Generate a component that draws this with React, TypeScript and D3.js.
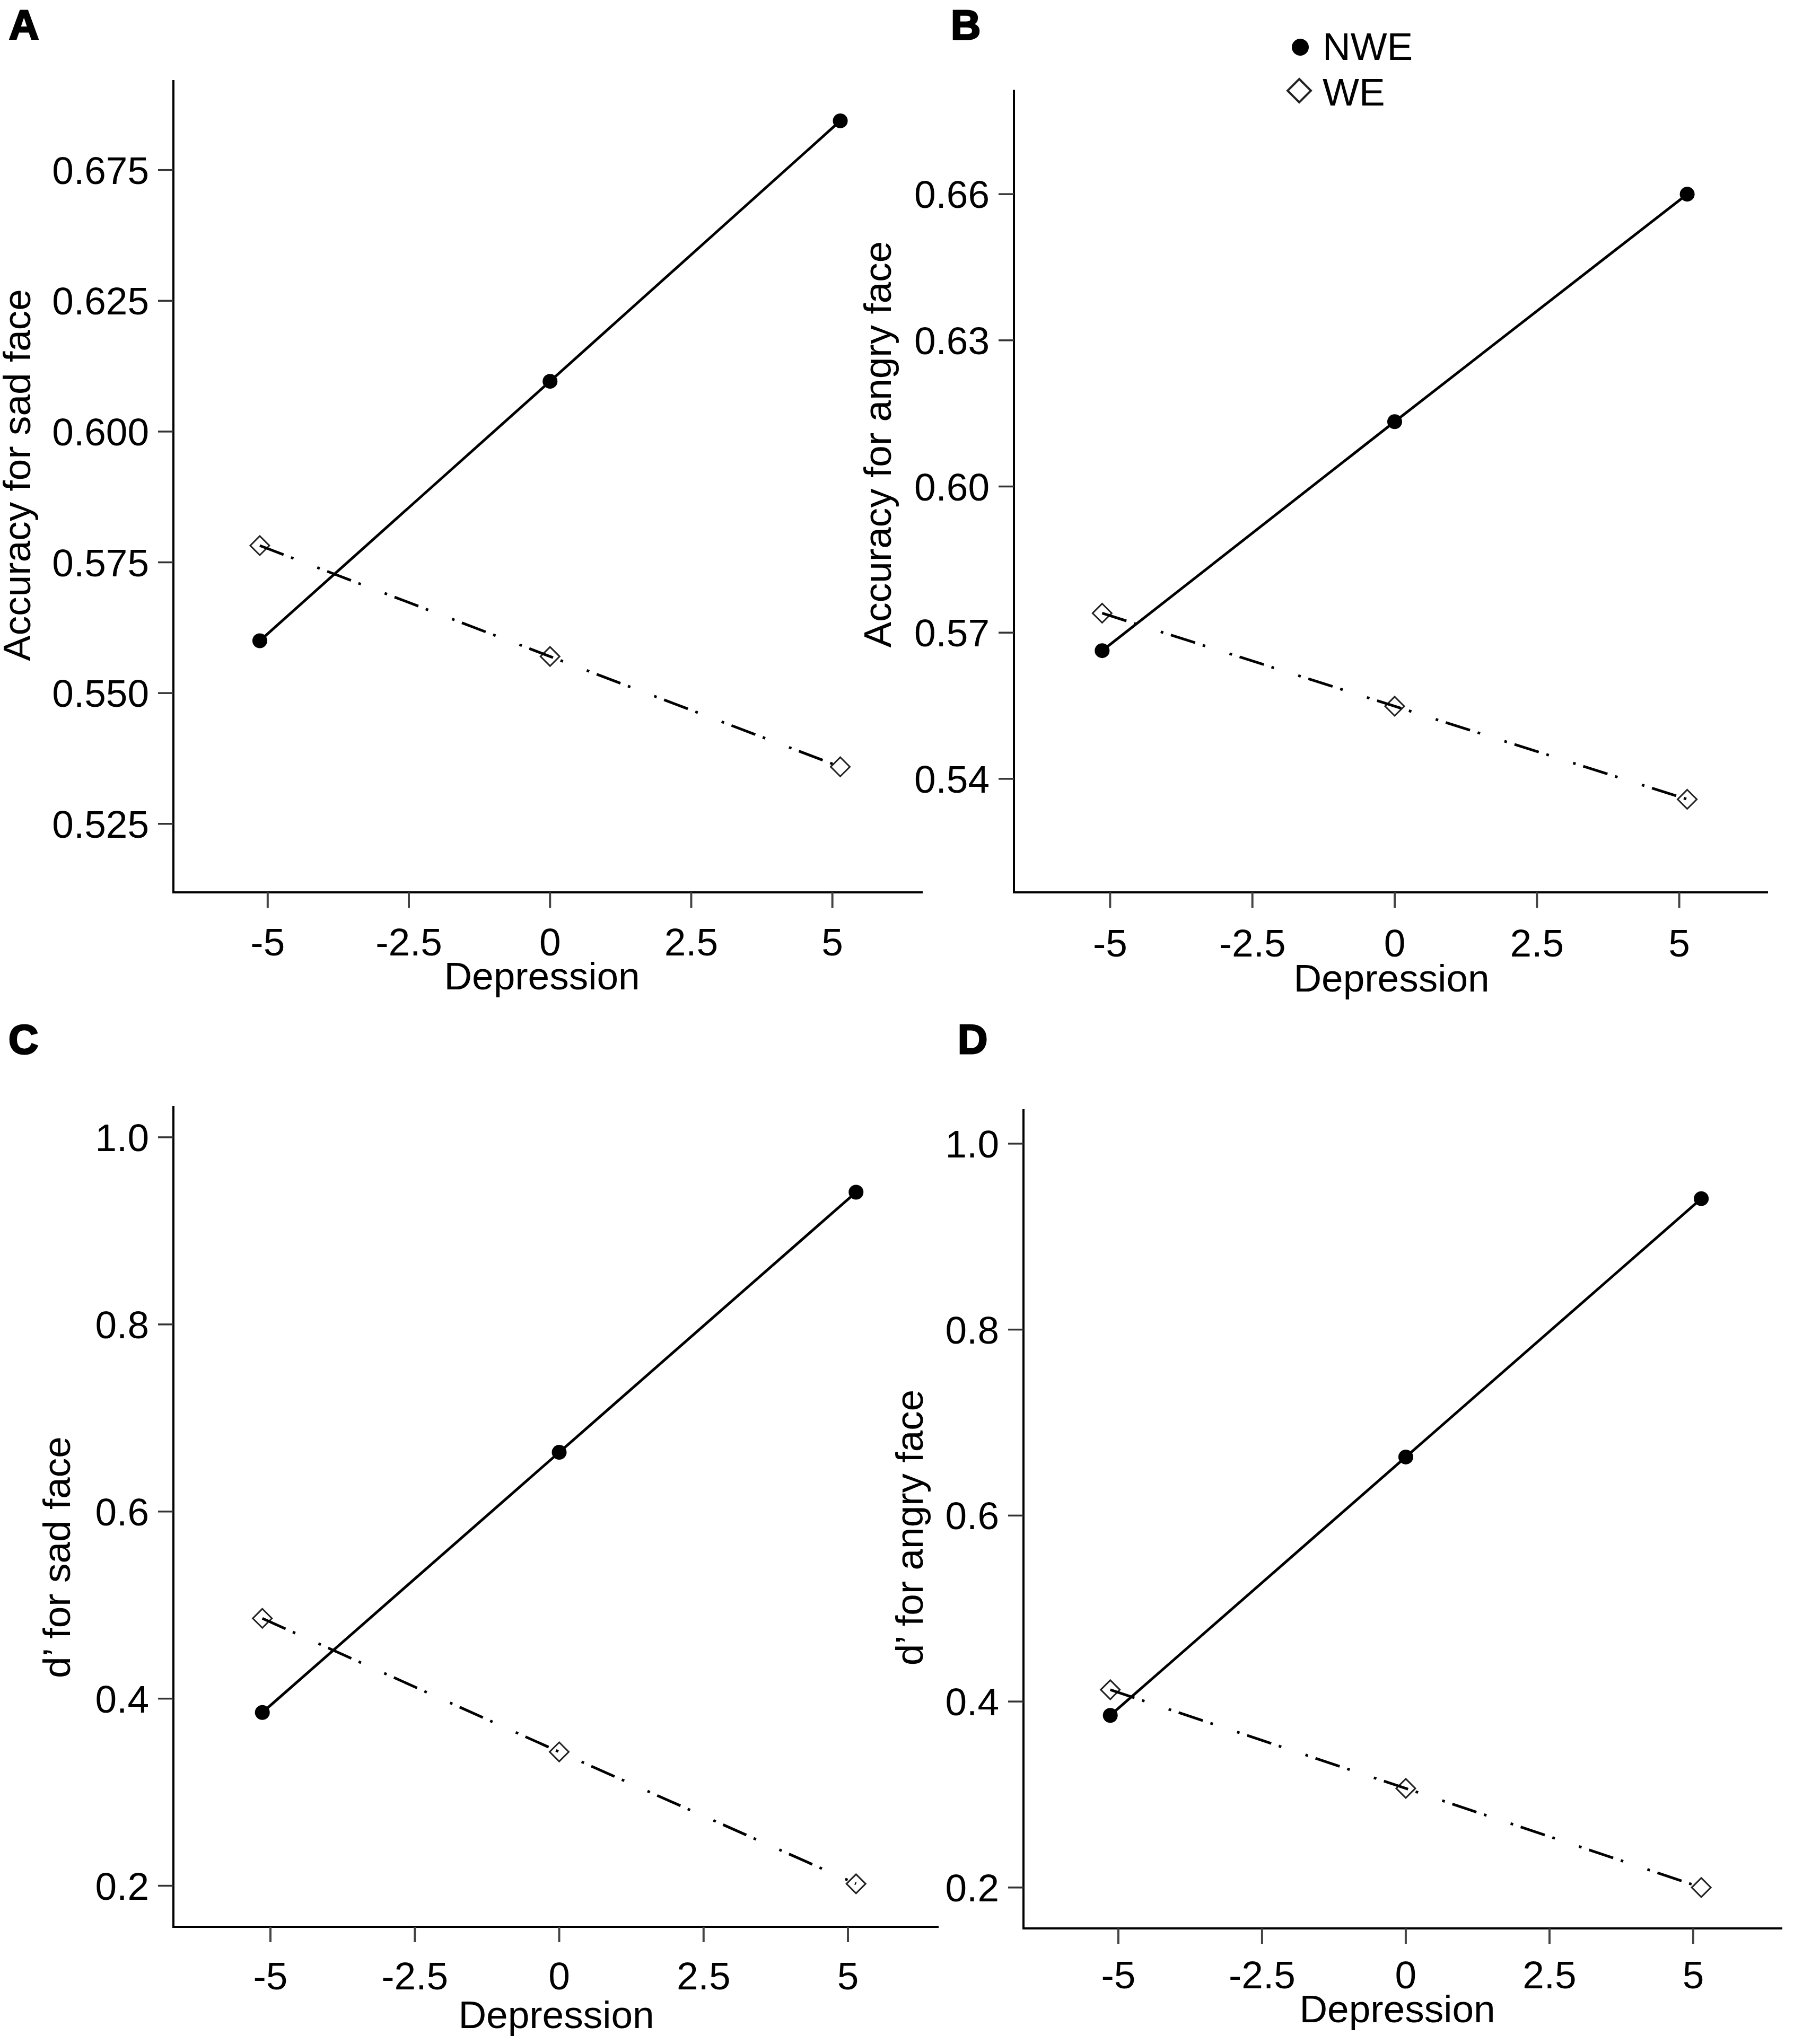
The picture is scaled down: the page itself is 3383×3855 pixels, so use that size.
import React from "react";
import * as d3 from "d3";

// ---------- data ----------
const depressionLevels = [-5.14, 0, 5.14];
const xTickValues = [-5, -2.5, 0, 2.5, 5];
const xTickLabels = ["-5", "-2.5", "0", "2.5", "5"];

// Panel A: accuracy for sad face (top tick is printed "0.675" in the source figure)
const aYTickValues = [0.525, 0.55, 0.575, 0.6, 0.625, 0.65];
const aYTickLabels = ["0.525", "0.550", "0.575", "0.600", "0.625", "0.675"];
const nweSadAccuracy = [0.56, 0.6096, 0.6594];
const weSadAccuracy = [0.5782, 0.557, 0.5359];

// Panel B: accuracy for angry face
const bYTickValues = [0.54, 0.57, 0.6, 0.63, 0.66];
const bYTickLabels = ["0.54", "0.57", "0.60", "0.63", "0.66"];
const nweAngryAccuracy = [0.5663, 0.6133, 0.66];
const weAngryAccuracy = [0.574, 0.5549, 0.5358];

// Panel C: d' for sad face
const dYTickValues = [0.2, 0.4, 0.6, 0.8, 1.0];
const dYTickLabels = ["0.2", "0.4", "0.6", "0.8", "1.0"];
const nweSadD = [0.3852, 0.6633, 0.9413];
const weSadD = [0.4858, 0.3431, 0.2021];

// Panel D: d' for angry face
const nweAngryD = [0.3851, 0.663, 0.9408];
const weAngryD = [0.4127, 0.3066, 0.2];

const seriesNames = ["NWE", "WE"];

// ---------- layout ----------
const W = 3383;
const H = 3855;
const FONT = "'Liberation Sans', Arial, Helvetica, sans-serif";
const FS = 73;

type Panel = {
  letter: string;
  letterPos: [number, number];
  xDomain: [number, number];
  xRange: [number, number];
  yDomain: [number, number];
  yRange: [number, number];
  yTicks: number[];
  yLabels: string[];
  nwe: number[];
  we: number[];
  yTitle: string;
  yTitlePos: [number, number];
  xTitlePos: [number, number];
  xTickLabelY: number;
};

const panels: Panel[] = [
  {
    letter: "A",
    letterPos: [17, 74],
    xDomain: [-6.67, 6.6],
    xRange: [327, 1740],
    yDomain: [0.5119, 0.6672],
    yRange: [1683, 151],
    yTicks: aYTickValues,
    yLabels: aYTickLabels,
    nwe: nweSadAccuracy,
    we: weSadAccuracy,
    yTitle: "Accuracy for sad face",
    yTitlePos: [57, 896],
    xTitlePos: [1022, 1866],
    xTickLabelY: 1802,
  },
  {
    letter: "B",
    letterPos: [1793, 74],
    xDomain: [-6.69, 6.56],
    xRange: [1912, 3334],
    yDomain: [0.5167, 0.6814],
    yRange: [1683, 169.5],
    yTicks: bYTickValues,
    yLabels: bYTickLabels,
    nwe: nweAngryAccuracy,
    we: weAngryAccuracy,
    yTitle: "Accuracy for angry face",
    yTitlePos: [1680, 838],
    xTitlePos: [2624, 1870],
    xTickLabelY: 1804,
  },
  {
    letter: "C",
    letterPos: [16, 1987],
    xDomain: [-6.68, 6.57],
    xRange: [327, 1770],
    yDomain: [0.1561, 1.0334],
    yRange: [3634, 2086],
    yTicks: dYTickValues,
    yLabels: dYTickLabels,
    nwe: nweSadD,
    we: weSadD,
    yTitle: "d\u2019 for sad face",
    yTitlePos: [132, 2937],
    xTitlePos: [1049, 3825],
    xTickLabelY: 3752,
  },
  {
    letter: "D",
    letterPos: [1806, 1987],
    xDomain: [-6.65, 6.55],
    xRange: [1930, 3361],
    yDomain: [0.156, 1.037],
    yRange: [3637, 2092],
    yTicks: dYTickValues,
    yLabels: dYTickLabels,
    nwe: nweAngryD,
    we: weAngryD,
    yTitle: "d\u2019 for angry face",
    yTitlePos: [1740, 2881],
    xTitlePos: [2635, 3814],
    xTickLabelY: 3750,
  },
];

const DASH = "48 15 5 48 5 15";

function diamondPath(cx: number, cy: number, r: number) {
  return `M${cx},${cy - r}L${cx + r},${cy}L${cx},${cy + r}L${cx - r},${cy}Z`;
}

function PanelView({ p }: { p: Panel }) {
  const x = d3.scaleLinear().domain(p.xDomain).range(p.xRange);
  const y = d3.scaleLinear().domain(p.yDomain).range(p.yRange);
  const line = d3
    .line<number>()
    .x((_, i) => x(depressionLevels[i]))
    .y((v) => y(v));
  const x0 = p.xRange[0];
  const x1 = p.xRange[1];
  const yb = p.yRange[0];
  const yt = p.yRange[1];
  return (
    <g>
      <text
        x={p.letterPos[0]}
        y={p.letterPos[1]}
        fontFamily={FONT}
        fontWeight={700}
        fontSize={78}
        fill="#000"
        stroke="#000"
        strokeWidth={3}
      >
        {p.letter}
      </text>
      {/* axes */}
      <line x1={x0} y1={yt} x2={x0} y2={yb + 2} stroke="#000" strokeWidth={4} />
      <line x1={x0 - 2} y1={yb} x2={x1} y2={yb} stroke="#000" strokeWidth={4} />
      {/* y ticks */}
      {p.yTicks.map((t, i) => (
        <g key={"yt" + i}>
          <line x1={x0 - 29} x2={x0} y1={y(t)} y2={y(t)} stroke="#333" strokeWidth={3.5} />
          <text
            x={x0 - 46}
            y={y(t) + 26}
            textAnchor="end"
            fontFamily={FONT}
            fontSize={FS}
            fill="#000"
          >
            {p.yLabels[i]}
          </text>
        </g>
      ))}
      {/* x ticks */}
      {xTickValues.map((t, i) => (
        <g key={"xt" + i}>
          <line x1={x(t)} x2={x(t)} y1={yb} y2={yb + 29} stroke="#444" strokeWidth={4} />
          <text
            x={x(t)}
            y={p.xTickLabelY}
            textAnchor="middle"
            fontFamily={FONT}
            fontSize={FS}
            fill="#000"
          >
            {xTickLabels[i]}
          </text>
        </g>
      ))}
      <text
        x={p.xTitlePos[0]}
        y={p.xTitlePos[1]}
        textAnchor="middle"
        fontFamily={FONT}
        fontSize={FS}
        fill="#000"
      >
        Depression
      </text>
      <text
        transform={`translate(${p.yTitlePos[0]},${p.yTitlePos[1]}) rotate(-90)`}
        textAnchor="middle"
        fontFamily={FONT}
        fontSize={FS}
        fill="#000"
      >
        {p.yTitle}
      </text>
      {/* WE series: dash-dot line with open diamonds */}
      {p.we.map((v, i) => (
        <path
          key={"wd" + i}
          d={diamondPath(x(depressionLevels[i]), y(v), 18)}
          fill="none"
          stroke="#222"
          strokeWidth={3}
        />
      ))}
      <path
        d={line(p.we) || ""}
        fill="none"
        stroke="#000"
        strokeWidth={5}
        strokeDasharray={DASH}
      />
      {/* NWE series: solid line with filled dots */}
      <path d={line(p.nwe) || ""} fill="none" stroke="#000" strokeWidth={5} />
      {p.nwe.map((v, i) => (
        <circle key={"nd" + i} cx={x(depressionLevels[i])} cy={y(v)} r={14} fill="#000" />
      ))}
    </g>
  );
}

export default function App() {
  return (
    <svg
      width={W}
      height={H}
      viewBox={`0 0 ${W} ${H}`}
      style={{ position: "absolute", left: 0, top: 0, background: "#fff" }}
    >
      <rect x={0} y={0} width={W} height={H} fill="#fff" />
      {panels.map((p) => (
        <PanelView key={p.letter} p={p} />
      ))}
      {/* legend */}
      <circle cx={2452} cy={89} r={16} fill="#000" />
      <text x={2494} y={113} fontFamily={FONT} fontSize={FS} fill="#000">
        {seriesNames[0]}
      </text>
      <path d={diamondPath(2450, 171, 22)} fill="none" stroke="#222" strokeWidth={4} />
      <text x={2494} y={199} fontFamily={FONT} fontSize={FS} fill="#000">
        {seriesNames[1]}
      </text>
    </svg>
  );
}
